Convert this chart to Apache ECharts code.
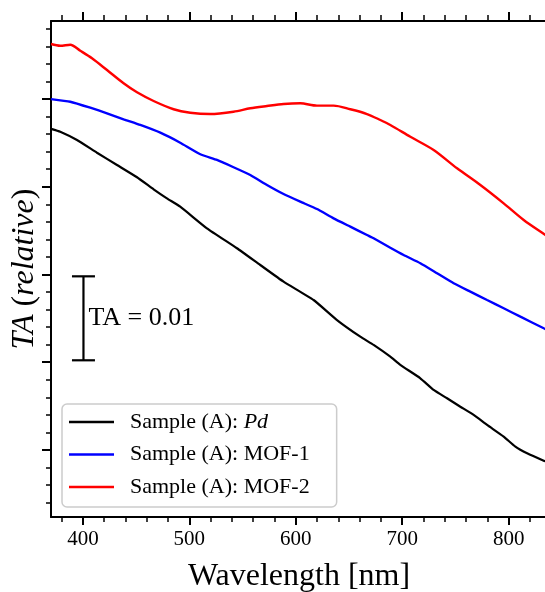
<!DOCTYPE html>
<html>
<head>
<meta charset="utf-8">
<script src="https://cdn.jsdelivr.net/npm/echarts@6/dist/echarts.min.js"></script>
<style>
html,body{margin:0;padding:0;background:#fff;}
#chart{width:545px;height:592px;}
</style>
</head>
<body>
<div id="chart"></div>
<script>
// ---- data (wavelength in nm, TA in absolute units, relative offsets) ----
const seriesNames = ['Sample (A): Pd', 'Sample (A): MOF-1', 'Sample (A): MOF-2'];

const pdWavelength = [370, 378.7, 394.4, 413.2, 432.0, 450.8, 466.4, 478.9, 491.4, 516.5, 544.7, 566.6, 588.5, 616.7, 638.7, 660.6, 673.1, 688.8, 698.2, 717.0, 729.5, 742.1, 754.6, 767.1, 779.7, 795.3, 806.3, 817.3, 832.9, 836];
const pdTA = [0.03660, 0.03627, 0.03533, 0.03388, 0.03248, 0.03108, 0.02971, 0.02868, 0.02773, 0.02526, 0.02299, 0.02108, 0.01918, 0.01709, 0.01481, 0.01291, 0.01197, 0.01063, 0.00969, 0.00817, 0.00684, 0.00589, 0.00493, 0.00399, 0.00285, 0.00152, 0.00038, -0.00038, -0.00122, -0.00135];

const mof1Wavelength = [370, 388.1, 406.9, 422.6, 438.2, 453.9, 472.7, 491.4, 510.3, 525.9, 541.5, 557.2, 572.9, 588.5, 604.2, 619.9, 635.5, 651.2, 666.9, 673.1, 688.8, 701.3, 717.0, 732.7, 748.3, 764.0, 779.7, 795.3, 811.0, 832.9, 836];
const mof1TA = [0.03999, 0.03969, 0.03901, 0.03837, 0.03769, 0.03704, 0.03616, 0.03502, 0.03370, 0.03305, 0.03222, 0.03134, 0.03020, 0.02917, 0.02830, 0.02746, 0.02640, 0.02545, 0.02450, 0.02413, 0.02305, 0.02222, 0.02128, 0.02014, 0.01900, 0.01804, 0.01709, 0.01615, 0.01519, 0.01387, 0.01370];

const mof2Wavelength = [370, 378.7, 388.1, 397.5, 408.5, 422.6, 438.2, 450.8, 466.4, 485.2, 500.8, 519.6, 541.5, 557.2, 572.9, 588.5, 604.2, 619.9, 635.5, 651.2, 666.9, 679.4, 688.8, 707.6, 729.5, 751.5, 773.4, 795.3, 814.1, 834.5, 836];
const mof2TA = [0.04627, 0.04607, 0.04619, 0.04550, 0.04464, 0.04330, 0.04179, 0.04076, 0.03977, 0.03883, 0.03844, 0.03829, 0.03855, 0.03894, 0.03920, 0.03943, 0.03951, 0.03924, 0.03924, 0.03883, 0.03829, 0.03761, 0.03704, 0.03570, 0.03419, 0.03210, 0.03020, 0.02811, 0.02621, 0.02450, 0.02438];

// axis ticks
const xMajorTicks = [400, 500, 600, 700, 800];
const xMinorTicks = [380, 420, 440, 460, 480, 520, 540, 560, 580, 620, 640, 660, 680, 720, 740, 760, 780, 820];
const yMajorTicks = [0, 0.01, 0.02, 0.03, 0.04];
const yMinorTicks = [-0.006, -0.004, -0.002, 0.002, 0.004, 0.006, 0.008, 0.012, 0.014, 0.016, 0.018, 0.022, 0.024, 0.026, 0.028, 0.032, 0.034, 0.036, 0.038, 0.042, 0.044, 0.046, 0.048];

// scale bar: [wavelength, TA bottom, TA top]
const scaleBar = [[400.5, 0.01022, 0.01979]];
const scaleBarLabel = 'TA = 0.01';

const xRange = [370, 836];
const yRange = [-0.00764, 0.04889];

const colors = ['#000000', '#0000ff', '#ff0000'];
const FONT = '"Liberation Serif", "DejaVu Serif", serif';

function pairs(xs, ys) { return xs.map((x, i) => [x, ys[i]]); }

const chart = echarts.init(document.getElementById('chart'), null, {renderer: 'canvas'});

const baseX = {type: 'value', min: xRange[0], max: xRange[1], splitLine: {show: false}, axisLabel: {show: false}, axisLine: {show: false, onZero: false}};
const baseY = {type: 'value', min: yRange[0], max: yRange[1], splitLine: {show: false}, axisLabel: {show: false}, axisLine: {show: false, onZero: false}};

const option = {
  animation: false,
  backgroundColor: '#ffffff',
  grid: {left: 51, top: 21, right: -2, bottom: 75, containLabel: false, outerBoundsMode: 'none'},
  xAxis: [
    Object.assign({}, baseX, {
      position: 'bottom',
      name: 'Wavelength [nm]',
      nameLocation: 'middle',
      nameGap: 44,
      nameTextStyle: {fontFamily: FONT, fontSize: 32, color: '#000'},
      axisLine: {show: true, onZero: false, lineStyle: {color: '#000', width: 2}},
      axisTick: {show: true, inside: false, length: 8, customValues: xMajorTicks, lineStyle: {color: '#000', width: 2}},
      axisLabel: {show: true, customValues: xMajorTicks, margin: 12, fontFamily: FONT, fontSize: 21, color: '#000'}
    }),
    Object.assign({}, baseX, {
      position: 'bottom',
      axisTick: {show: true, inside: false, length: 5, customValues: xMinorTicks, lineStyle: {color: '#000', width: 1.5}}
    }),
    Object.assign({}, baseX, {
      position: 'top',
      axisLine: {show: true, onZero: false, lineStyle: {color: '#000', width: 2}},
      axisTick: {show: true, inside: false, length: 9, customValues: xMajorTicks, lineStyle: {color: '#000', width: 2}}
    }),
    Object.assign({}, baseX, {
      position: 'top',
      axisTick: {show: true, inside: false, length: 6, customValues: xMinorTicks, lineStyle: {color: '#000', width: 1.5}}
    })
  ],
  yAxis: [
    Object.assign({}, baseY, {
      position: 'left',
      name: '{i|TA} {n|(}{i|relative}{n|)}',
      nameLocation: 'middle',
      nameGap: 10,
      nameRotate: 90,
      nameTextStyle: {
        fontFamily: FONT, fontSize: 32, color: '#000',
        rich: {
          i: {fontFamily: FONT, fontSize: 32, fontStyle: 'italic', color: '#000'},
          n: {fontFamily: FONT, fontSize: 32, color: '#000'}
        }
      },
      axisLine: {show: true, onZero: false, lineStyle: {color: '#000', width: 2}},
      axisTick: {show: true, inside: false, length: 9, customValues: yMajorTicks, lineStyle: {color: '#000', width: 2}}
    }),
    Object.assign({}, baseY, {
      position: 'left',
      axisTick: {show: true, inside: false, length: 5, customValues: yMinorTicks, lineStyle: {color: '#000', width: 1.5}}
    })
  ],
  legend: {
    show: true,
    orient: 'vertical',
    left: 62,
    top: 404,
    padding: [6, 27, 8, 7],
    itemGap: 8.5,
    itemWidth: 45,
    itemHeight: 2.5,
    icon: 'rect',
    backgroundColor: 'rgba(255,255,255,0.85)',
    borderColor: '#cccccc',
    borderWidth: 1.5,
    borderRadius: 5,
    data: seriesNames,
    formatter: function (name) {
      if (name === seriesNames[0]) return 'Sample (A): {i|Pd}';
      return name;
    },
    textStyle: {
      fontFamily: FONT, fontSize: 22, color: '#000', lineHeight: 24, padding: [0, 0, 0, 11],
      rich: {i: {fontFamily: FONT, fontSize: 22, fontStyle: 'italic', color: '#000', lineHeight: 24}}
    }
  },
  series: [
    {name: seriesNames[0], type: 'line', xAxisIndex: 0, yAxisIndex: 0, data: pairs(pdWavelength, pdTA), showSymbol: false, symbol: 'none', smooth: 0.15, lineStyle: {color: colors[0], width: 2.2}, itemStyle: {color: colors[0]}, clip: true, z: 3},
    {name: seriesNames[1], type: 'line', xAxisIndex: 0, yAxisIndex: 0, data: pairs(mof1Wavelength, mof1TA), showSymbol: false, symbol: 'none', smooth: 0.15, lineStyle: {color: colors[1], width: 2.4}, itemStyle: {color: colors[1]}, clip: true, z: 3},
    {name: seriesNames[2], type: 'line', xAxisIndex: 0, yAxisIndex: 0, data: pairs(mof2Wavelength, mof2TA), showSymbol: false, symbol: 'none', smooth: 0.3, lineStyle: {color: colors[2], width: 2.4}, itemStyle: {color: colors[2]}, clip: true, z: 3},
    {
      type: 'custom', xAxisIndex: 0, yAxisIndex: 0, data: scaleBar, silent: true, z: 4,
      renderItem: function (params, api) {
        const bottom = api.coord([api.value(0), api.value(1)]);
        const top = api.coord([api.value(0), api.value(2)]);
        const cap = 11.5;
        const ls = {stroke: '#000', lineWidth: 2.2};
        return {
          type: 'group',
          children: [
            {type: 'line', shape: {x1: top[0], y1: top[1], x2: bottom[0], y2: bottom[1]}, style: ls},
            {type: 'line', shape: {x1: top[0] - cap, y1: top[1], x2: top[0] + cap, y2: top[1]}, style: ls},
            {type: 'line', shape: {x1: bottom[0] - cap, y1: bottom[1], x2: bottom[0] + cap, y2: bottom[1]}, style: ls},
            {type: 'text', style: {text: scaleBarLabel, x: top[0] + 5, y: (top[1] + bottom[1]) / 2, fontFamily: FONT, fontSize: 26, fill: '#000', textVerticalAlign: 'middle', verticalAlign: 'middle'}}
          ]
        };
      }
    }
  ]
};
chart.setOption(option);
</script>
</body>
</html>
